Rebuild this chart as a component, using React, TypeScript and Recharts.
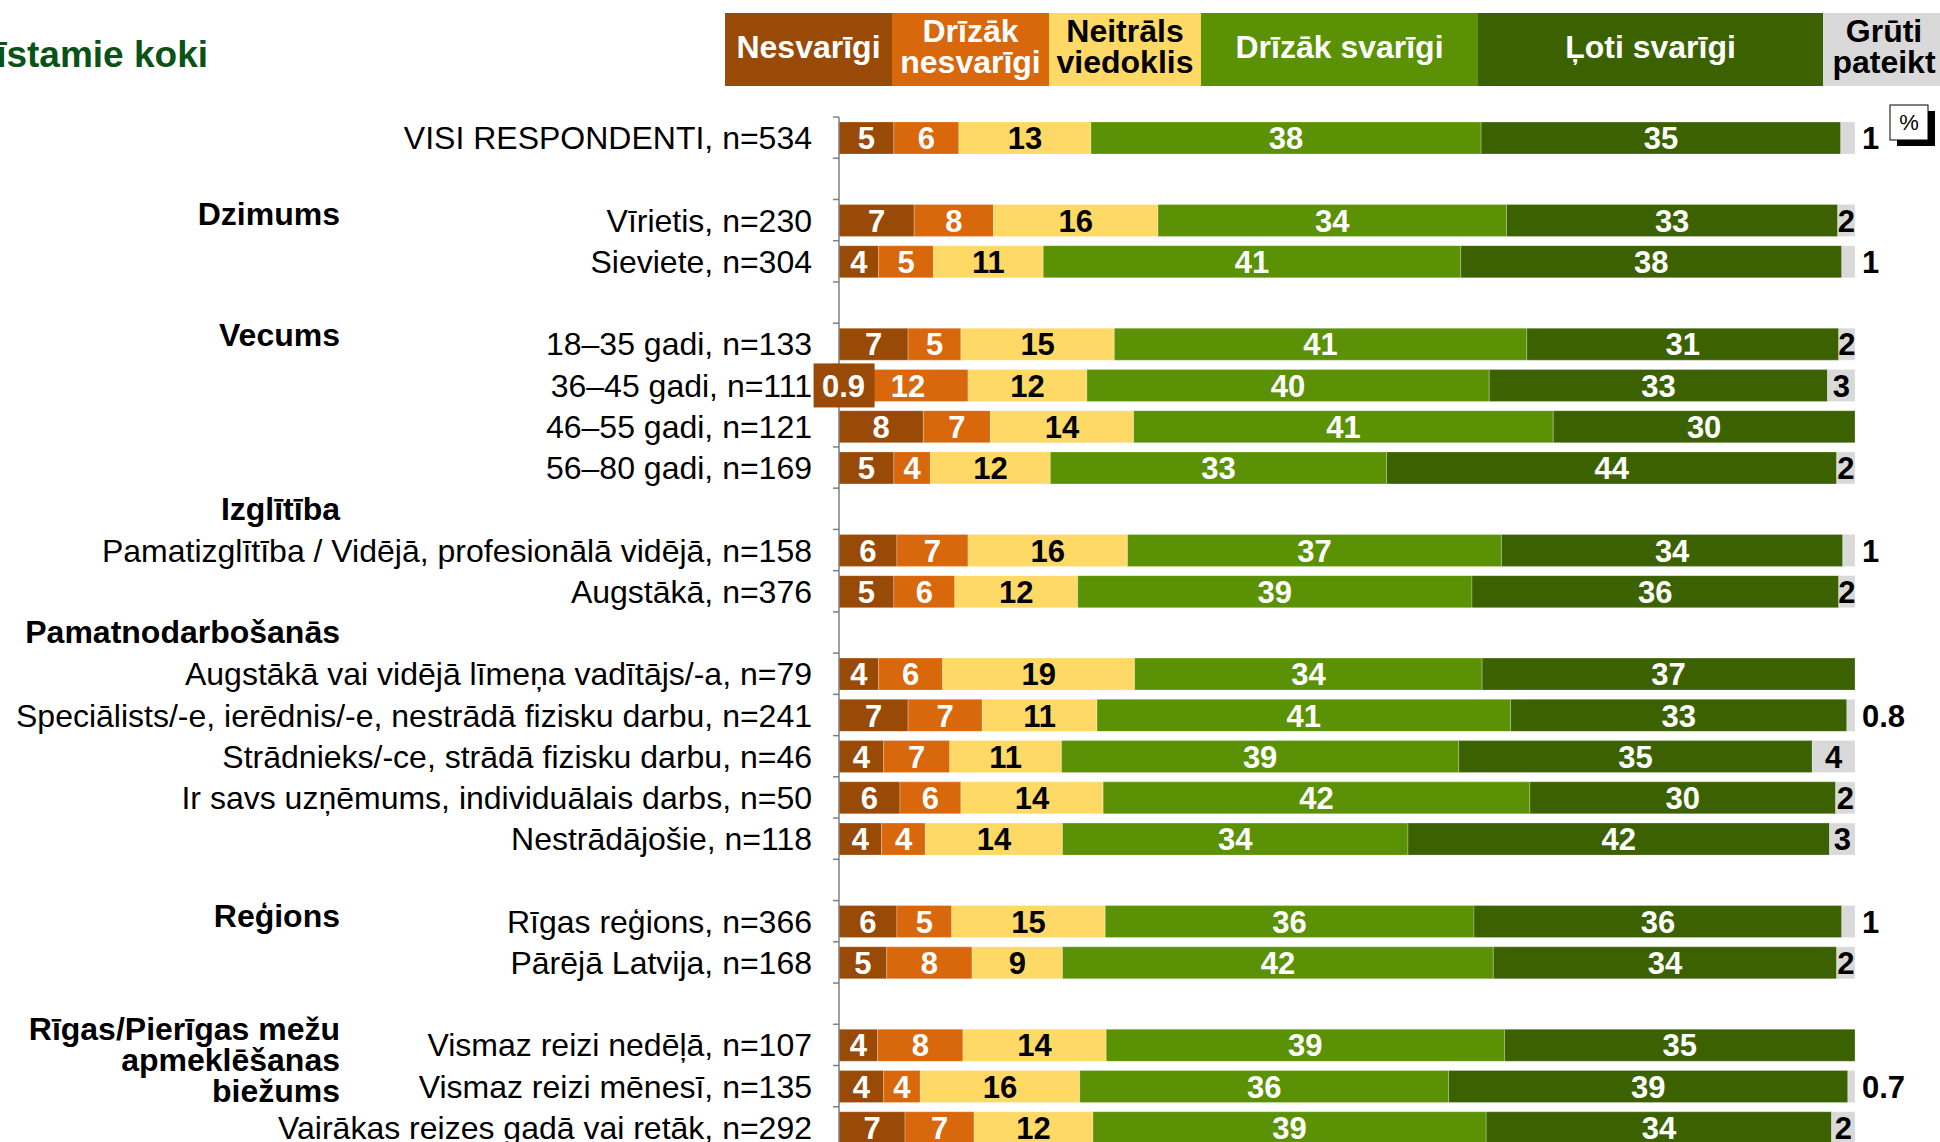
import React from "react";
import { BarChart, Bar, XAxis, YAxis, LabelList } from "recharts";

// row labels, "" = spacer row
const categories = [
  "VISI RESPONDENTI, n=534", "",
  "Vīrietis, n=230", "Sieviete, n=304", "",
  "18–35 gadi, n=133", "36–45 gadi, n=111", "46–55 gadi, n=121", "56–80 gadi, n=169", "",
  "Pamatizglītība / Vidējā, profesionālā vidējā, n=158", "Augstākā, n=376", "",
  "Augstākā vai vidējā līmeņa vadītājs/-a, n=79",
  "Speciālists/-e, ierēdnis/-e, nestrādā fizisku darbu, n=241",
  "Strādnieks/-ce, strādā fizisku darbu, n=46",
  "Ir savs uzņēmums, individuālais darbs, n=50",
  "Nestrādājošie, n=118", "",
  "Rīgas reģions, n=366", "Pārējā Latvija, n=168", "",
  "Vismaz reizi nedēļā, n=107", "Vismaz reizi mēnesī, n=135", "Vairākas reizes gadā vai retāk, n=292",
];

const nesvarigi       = [5.4, null, 7.4, 3.9, null, 6.8, 0.9, 8.3, 5.4, null, 5.7, 5.4, null, 3.9, 6.8, 4.4, 6.0, 4.2, null, 5.7, 4.7, null, 3.8, 4.4, 6.5];
const drizakNesvarigi = [6.4, null, 7.8, 5.4, null, 5.2, 11.8, 6.6, 3.6, null, 7.0, 6.0, null, 6.3, 7.3, 6.5, 6.0, 4.3, null, 5.4, 8.4, null, 8.4, 3.6, 6.8];
const neitrals        = [13.0, null, 16.2, 10.8, null, 15.1, 11.7, 14.1, 11.8, null, 15.7, 12.1, null, 18.9, 11.3, 11.0, 14.0, 13.5, null, 15.1, 8.9, null, 14.1, 15.7, 11.7];
const drizakSvarigi   = [38.4, null, 34.3, 41.1, null, 40.6, 39.6, 41.3, 33.1, null, 36.8, 38.8, null, 34.2, 40.7, 39.1, 42.0, 34.0, null, 36.3, 42.4, null, 39.2, 36.3, 38.7];
const lotiSvarigi     = [35.4, null, 32.6, 37.5, null, 30.7, 33.3, 29.7, 44.3, null, 33.6, 36.1, null, 36.7, 33.1, 34.8, 30.1, 41.5, null, 36.2, 33.8, null, 34.5, 39.3, 34.0];
const grutiPateikt    = [1.4, null, 1.7, 1.3, null, 1.6, 2.7, null, 1.8, null, 1.2, 1.6, null, null, 0.8, 4.2, 1.9, 2.5, null, 1.3, 1.8, null, null, 0.7, 2.3];

const seriesValues = [nesvarigi, drizakNesvarigi, neitrals, drizakSvarigi, lotiSvarigi, grutiPateikt];

const legendLabels = [
  ["Nesvarīgi"],
  ["Drīzāk", "nesvarīgi"],
  ["Neitrāls", "viedoklis"],
  ["Drīzāk svarīgi"],
  ["Ļoti svarīgi"],
  ["Grūti", "pateikt"],
];

// group headings: row slot they sit beside + text lines
const groupHeaders = [
  { slot: 2, lines: ["Dzimums"], dy: -6 },
  { slot: 5, lines: ["Vecums"], dy: -9 },
  { slot: 9, lines: ["Izglītība"], dy: 0 },
  { slot: 12, lines: ["Pamatnodarbošanās"], dy: 0 },
  { slot: 19, lines: ["Reģions"], dy: -5 },
  { slot: 22, lines: ["Rīgas/Pierīgas mežu", "apmeklēšanas", "biežums"], dy: -16 },
];

const SERIES = [
  { key: "nesvarigi", fill: "#9A4A07", text: "#ffffff" },
  { key: "drizakNesvarigi", fill: "#D9670B", text: "#ffffff" },
  { key: "neitrals", fill: "#FFD966", text: "#000000" },
  { key: "drizakSvarigi", fill: "#5B9104", text: "#ffffff" },
  { key: "lotiSvarigi", fill: "#3C6101", text: "#ffffff" },
  { key: "grutiPateikt", fill: "#D9D9D9", text: "#000000" },
];

// header box geometry (x, width)
const LEGEND_BOX = [
  { x: 725, w: 167 }, { x: 892, w: 157 }, { x: 1049, w: 152 },
  { x: 1201, w: 277 }, { x: 1478, w: 345 }, { x: 1823, w: 122 },
];

const FONT = '"Liberation Sans", Arial, Helvetica, sans-serif';
const W = 1940;
const H = 1142;
const CHART_H = 1160;
const MARGIN = { top: 117, right: 85, bottom: 12, left: 0 };
const AXIS_W = 839;
const TICK_MARGIN = 28;
const BAND = (CHART_H - MARGIN.top - MARGIN.bottom) / categories.length;

const data = categories.map((name, i) => {
  const row: any = { slot: String(i), name };
  SERIES.forEach((s, k) => { row[s.key] = seriesValues[k][i]; });
  return row;
});

const fmt = (v: number) => (v < 1 ? v.toFixed(1) : String(Math.round(v)));

function RowTick(props: any) {
  const { x, y, payload } = props;
  const i = Number(payload.value);
  const axisX = Number(x) + TICK_MARGIN;
  const cy = Number(y);
  const header = groupHeaders.find((g) => g.slot === i);
  return (
    <g>
      <line x1={axisX - 6} x2={axisX} y1={cy - BAND / 2} y2={cy - BAND / 2} stroke="#7f7f7f" strokeWidth={1.5} />
      {categories[i] && (
        <text x={axisX - 27} y={cy} dy="0.36em" textAnchor="end" fontSize={32} fontFamily={FONT} fill="#000">
          {categories[i]}
        </text>
      )}
      {header &&
        header.lines.map((ln, k) => (
          <text key={k} x={340} y={cy + header.dy + k * 31} dy="0.34em" textAnchor="end"
            fontSize={32} fontWeight="bold" fontFamily={FONT} fill="#000">
            {ln}
          </text>
        ))}
    </g>
  );
}

const renderLabel = (s: number) => (props: any) => {
  const x = Number(props.x);
  const y = Number(props.y);
  const w = Number(props.width);
  const h = Number(props.height);
  const cy = y + h / 2;
  // which data row this bar belongs to (null rows are skipped by the label list)
  const slot = Math.floor((cy - MARGIN.top) / BAND);
  const v = seriesValues[s][slot];
  if (v == null) return null;
  const common = { fontSize: 31, fontWeight: "bold" as const, fontFamily: FONT };
  if (s === 0 && v < 1) {
    const cx = x + w / 2;
    return (
      <g>
        <rect x={cx - 30} y={cy - 22} width={61} height={44} fill={SERIES[0].fill} />
        <text x={cx} y={cy} dy="0.36em" textAnchor="middle" fill="#fff" {...common}>{fmt(v)}</text>
      </g>
    );
  }
  if (s === 5 && v < 1.5) {
    return (
      <text x={x + w + 7} y={cy} dy="0.36em" textAnchor="start" fill="#000" {...common}>{fmt(v)}</text>
    );
  }
  return (
    <text x={x + w / 2} y={cy} dy="0.36em" textAnchor="middle" fill={SERIES[s].text} {...common}>{fmt(v)}</text>
  );
};

export default function App() {
  return (
    <div style={{ position: "absolute", left: 0, top: 0, width: W, height: H, overflow: "hidden", background: "#fff" }}>
      <div style={{ position: "absolute", left: 0, top: 0 }}>
        <BarChart width={W} height={CHART_H} data={data} layout="vertical" margin={MARGIN}>
          <XAxis type="number" domain={[0, 100]} hide />
          <YAxis
            type="category"
            dataKey="slot"
            width={AXIS_W}
            interval={0}
            tickLine={false}
            tickSize={0}
            tickMargin={TICK_MARGIN}
            axisLine={{ stroke: "#7f7f7f", strokeWidth: 1.5 }}
            tick={(p: any) => <RowTick {...p} />}
          />
          {SERIES.map((s, k) => (
            <Bar key={s.key} dataKey={s.key} stackId="a" fill={s.fill} barSize={32}
              stroke="#ffffff" strokeOpacity={0.25} strokeWidth={1} isAnimationActive={false}>
              <LabelList dataKey={s.key} content={renderLabel(k)} />
            </Bar>
          ))}
        </BarChart>
      </div>

      <svg width={W} height={H} style={{ position: "absolute", left: 0, top: 0, pointerEvents: "none" }}>
        <text x={208} y={67} textAnchor="end" fontSize={37} fontWeight="bold" fontFamily={FONT} fill="#0B5216">
          īstamie koki
        </text>

        {legendLabels.map((lines, k) => {
          const b = LEGEND_BOX[k];
          const cx = b.x + b.w / 2;
          const ys = lines.length === 1 ? [47] : [31, 62];
          return (
            <g key={k}>
              <rect x={b.x} y={13} width={b.w} height={73} fill={SERIES[k].fill} />
              {lines.map((ln, j) => (
                <text key={j} x={cx} y={ys[j]} dy="0.34em" textAnchor="middle" fontSize={32}
                  fontWeight="bold" fontFamily={FONT} fill={SERIES[k].text}>
                  {ln}
                </text>
              ))}
            </g>
          );
        })}

        <rect x={1897} y={111} width={38} height={35} fill="#000" />
        <rect x={1890} y={105} width={38} height={35} fill="#fff" stroke="#000" strokeWidth={1} />
        <text x={1909} y={122} dy="0.36em" textAnchor="middle" fontSize={22} fontFamily={FONT} fill="#000">%</text>
      </svg>
    </div>
  );
}
